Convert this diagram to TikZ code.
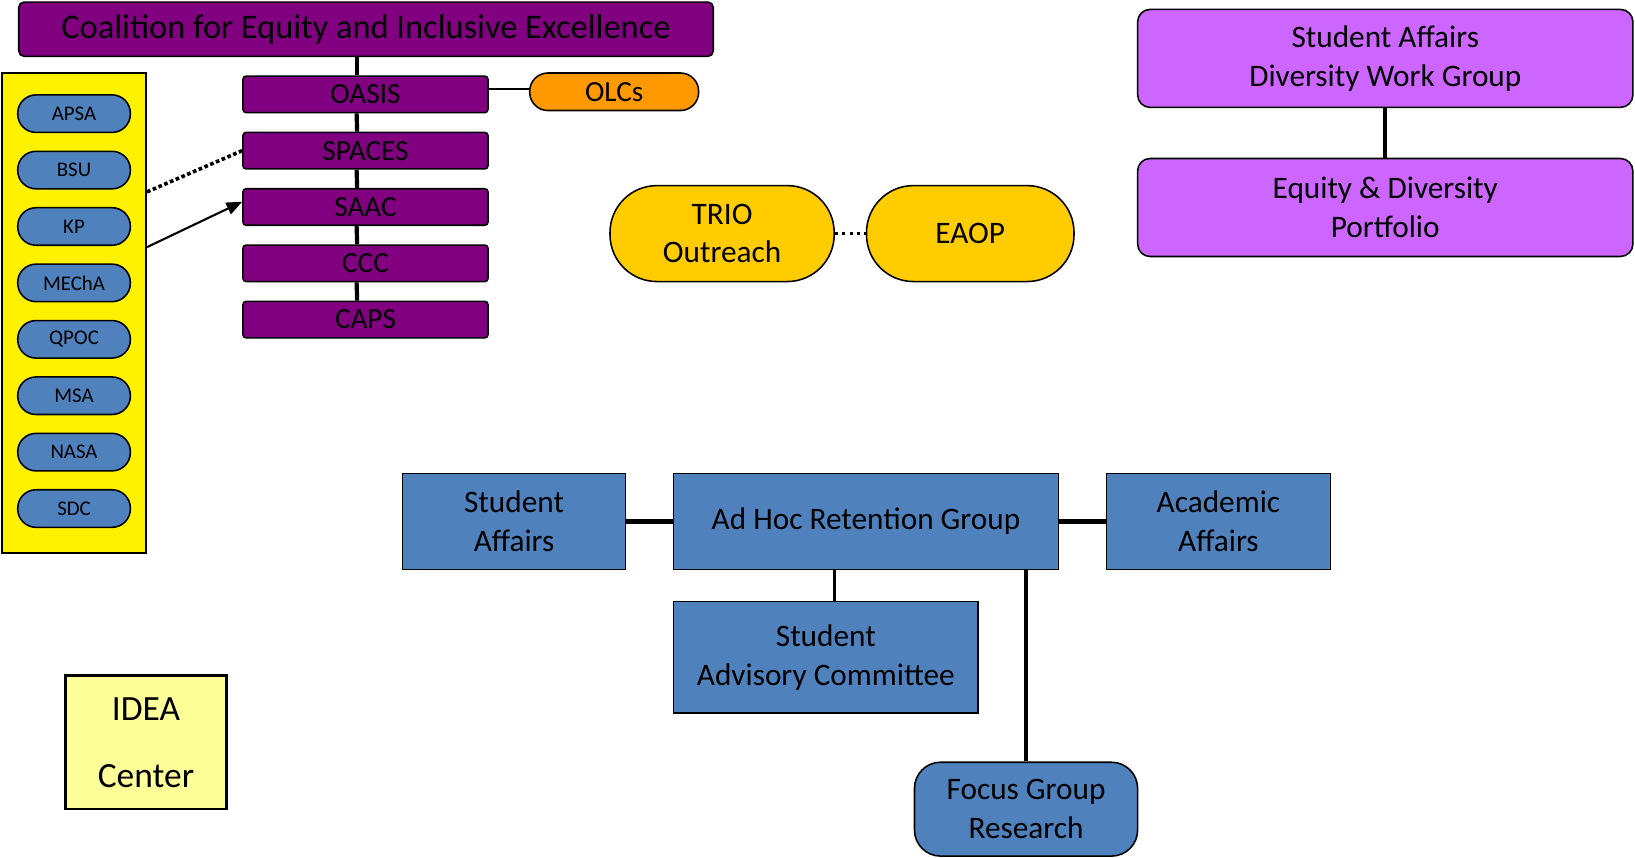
\documentclass[tikz,border=0pt]{standalone}
\usepackage{fontspec}
\setmainfont{Carlito}
\usetikzlibrary{arrows.meta}
\definecolor{coalpurple}{HTML}{800080}
\definecolor{orgblue}{HTML}{4F81BD}
\definecolor{olcorange}{HTML}{FF9900}
\definecolor{trioyellow}{HTML}{FFCC00}
\definecolor{sapurple}{HTML}{CC66FF}
\definecolor{ideayellow}{HTML}{FFFF99}

\begin{document}
\begin{tikzpicture}[x=1pt,y=-1pt]
		\tikzstyle{every node}+=[inner sep=0pt, align=center]
		\tikzstyle{box}=[draw=black, line width=1.5pt, font=\fontsize{30}{37}\selectfont]
		\tikzstyle{unit}=[box, fill=coalpurple, minimum width=235pt, minimum height=35pt, rounded corners=3pt, font=\fontsize{28}{34}\selectfont]
		\tikzstyle{club}=[box, fill=orgblue, minimum width=108pt, minimum height=36pt, rounded corners=17.5pt, font=\fontsize{20}{24}\selectfont]
		\tikzstyle{outreach}=[box, fill=trioyellow, minimum height=92pt, rounded corners=45pt]
		\tikzstyle{saunit}=[box, fill=sapurple, minimum width=475pt, minimum height=94pt, rounded corners=12pt]
		\tikzstyle{retain}=[box, fill=orgblue, sharp corners]
		\tikzstyle{trunk}=[black, line width=4pt]
		\useasboundingbox (0,0) rectangle (1568,822);
		\node [box, fill=coalpurple, minimum width=666pt, minimum height=52pt, rounded corners=5pt, font=\fontsize{33}{40}\selectfont] (coal) at (351,28) {Coalition for Equity and Inclusive Excellence};
		\node [unit] (oasis) at (350.5,90.5) {OASIS};
		\node [unit] (spaces) at (350.5,144.5) {SPACES};
		\node [unit] (saac) at (350.5,198.5) {SAAC};
		\node [unit] (ccc) at (350.5,252.5) {CCC};
		\node [unit] (caps) at (350.5,306.5) {CAPS};
		\foreach \a/\b in {coal/oasis, oasis/spaces, spaces/saac, saac/ccc, ccc/caps}
			\draw [trunk] ([xshift=-8.5pt]\a.south) -- ([xshift=-8pt]\b.north);
		\node [box, fill=olcorange, minimum width=162pt, minimum height=36pt, rounded corners=17.5pt, font=\fontsize{28}{34}\selectfont] (olcs) at (589,88) {OLCs};
		\draw [black, line width=2pt] ([yshift=5.5pt]oasis.east) -- ([yshift=3pt]olcs.west);
		\node [box, fill=yellow, line width=2pt, minimum width=138pt, minimum height=460pt] (grp) at (71,300) {};
		\foreach \nm/\txt [count=\i from 0] in {apsa/APSA, bsu/BSU, kp/KP, mecha/MEChA, qpoc/QPOC, msa/MSA, nasa/NASA, sdc/SDC}
			\node [club] (\nm) at (71,109+54.1*\i) {\txt};
		\draw [black, line width=3.5pt, dash pattern=on 3.5pt off 2.5pt] ([yshift=-115pt]grp.north east) -- (spaces.west);
		\draw [black, line width=2pt, -{Triangle[length=15pt, width=12pt]}] ([yshift=-168pt]grp.north east) -- ([yshift=5pt]saac.west);
		\node [outreach, minimum width=215pt] (trio) at (692.5,224) {TRIO\\Outreach};
		\node [outreach, minimum width=199pt] (eaop) at (930.5,224) {EAOP};
		\draw [black, line width=3pt, dash pattern=on 3pt off 4pt] (trio.east) -- (eaop.west);
		\node [saunit] (dwg) at (1328.5,56) {Student Affairs\\Diversity Work Group};
		\node [saunit] (edp) at (1328.5,199) {Equity \& Diversity\\Portfolio};
		\draw [trunk] (dwg.south) -- (edp.north);
		\node [retain, minimum width=214pt, minimum height=92pt] (stuaff) at (493,500) {Student\\Affairs};
		\node [retain, minimum width=369pt, minimum height=92pt] (adhoc) at (830.5,500) {Ad Hoc Retention Group};
		\node [retain, minimum width=215pt, minimum height=92pt] (acaff) at (1168.5,500) {Academic\\Affairs};
		\node [retain, minimum width=292pt, minimum height=107pt] (sac) at (792,630.5) {Student\\Advisory Committee};
		\node [box, fill=orgblue, minimum width=214pt, minimum height=90pt, rounded corners=25pt] (focus) at (984,776) {Focus Group\\Research};
		\draw [black, line width=5pt] (stuaff.east) -- (adhoc.west);
		\draw [black, line width=5pt] (adhoc.east) -- (acaff.west);
		\draw [black, line width=3pt] ([xshift=8pt]sac.north |- adhoc.south) -- ([xshift=8pt]sac.north);
		\draw [black, line width=3pt] (focus.north |- adhoc.south) -- (focus.north);
		\node [box, fill=ideayellow, line width=2.5pt, minimum width=154pt, minimum height=128pt, font=\fontsize{34}{41}\selectfont] (idea) at (140,712) {IDEA\\[23pt]Center};
	\end{tikzpicture}
\end{document}
